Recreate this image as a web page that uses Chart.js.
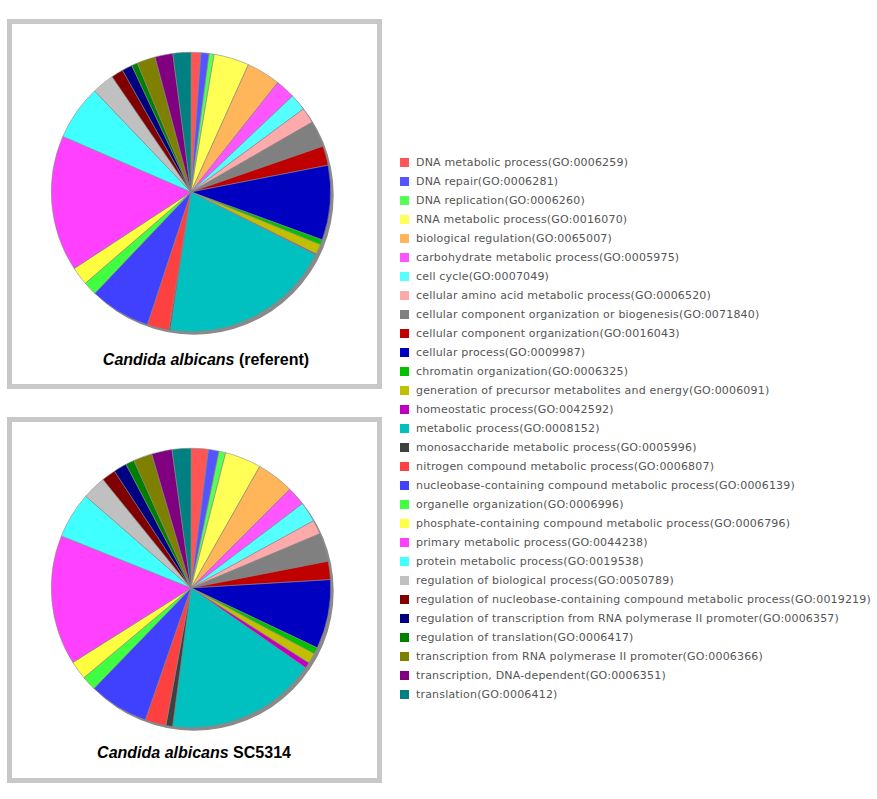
<!DOCTYPE html>
<html>
<head>
<meta charset="utf-8">
<script src="https://cdn.jsdelivr.net/npm/chart.js@4.4.1/dist/chart.umd.min.js"></script>
<style>
  body { margin: 0; background: #fff; width: 877px; height: 799px; position: relative; overflow: hidden; }
  .box { position: absolute; left: 7px; width: 365px; border: 5px solid #c8c8c8; background: #fff; }
  .pie { position: absolute; left: 46px; }
  .title { position: absolute; font: bold 16px "Liberation Sans", Arial, sans-serif; color: #000; white-space: nowrap; transform: translateX(-50%); }
  #legend { position: absolute; left: 400px; top: 153px; font: 11px "DejaVu Sans", Verdana, sans-serif; letter-spacing: 0.18px; color: #555; }
  .row { height: 19px; line-height: 19px; white-space: nowrap; position: relative; padding-left: 16px; }
  .sw { position: absolute; left: 0; top: 5px; width: 9px; height: 9px; }
</style>
</head>
<body>
<div class="box" style="top:19px; height:360px;"></div>
<div class="box" style="top:417px; height:356px;"></div>
<canvas id="pieRef" class="pie" width="290" height="290" style="top:47px;"></canvas>
<canvas id="pieSC" class="pie" width="290" height="290" style="top:443px;"></canvas>
<div class="title" style="left:206px; top:351px;"><i>Candida albicans</i> (referent)</div>
<div class="title" style="left:194px; top:744px;"><i>Candida albicans</i> SC5314</div>
<div id="legend"></div>

<script>
// GO 分類名稱
const labels = [
  'DNA metabolic process(GO:0006259)',
  'DNA repair(GO:0006281)',
  'DNA replication(GO:0006260)',
  'RNA metabolic process(GO:0016070)',
  'biological regulation(GO:0065007)',
  'carbohydrate metabolic process(GO:0005975)',
  'cell cycle(GO:0007049)',
  'cellular amino acid metabolic process(GO:0006520)',
  'cellular component organization or biogenesis(GO:0071840)',
  'cellular component organization(GO:0016043)',
  'cellular process(GO:0009987)',
  'chromatin organization(GO:0006325)',
  'generation of precursor metabolites and energy(GO:0006091)',
  'homeostatic process(GO:0042592)',
  'metabolic process(GO:0008152)',
  'monosaccharide metabolic process(GO:0005996)',
  'nitrogen compound metabolic process(GO:0006807)',
  'nucleobase-containing compound metabolic process(GO:0006139)',
  'organelle organization(GO:0006996)',
  'phosphate-containing compound metabolic process(GO:0006796)',
  'primary metabolic process(GO:0044238)',
  'protein metabolic process(GO:0019538)',
  'regulation of biological process(GO:0050789)',
  'regulation of nucleobase-containing compound metabolic process(GO:0019219)',
  'regulation of transcription from RNA polymerase II promoter(GO:0006357)',
  'regulation of translation(GO:0006417)',
  'transcription from RNA polymerase II promoter(GO:0006366)',
  'transcription, DNA-dependent(GO:0006351)',
  'translation(GO:0006412)'
];

const colors = [
  '#ff5555', '#5555ff', '#55ff55', '#ffff55', '#ffb55a', '#ff55ff', '#55ffff', '#ffaaaa',
  '#808080', '#c00000', '#0000c0', '#00c000', '#c0c000', '#c000c0', '#00c0c0', '#404040',
  '#ff4040', '#4040ff', '#40ff40', '#ffff40', '#ff40ff', '#40ffff', '#c0c0c0', '#800000',
  '#000080', '#008000', '#808000', '#800080', '#008080'
];

// 各分類所佔百分比 (由圖估計)
const referentValues = [
  1.14, 0.94, 0.58, 4.08, 3.94, 2.28, 1.92, 1.81, 3.00, 2.25, 8.64, 0.58, 1.17, 0.11, 19.97,
  0.14, 2.53, 7.03, 1.58, 2.11, 15.75, 6.36, 2.58, 1.39, 1.19, 0.69, 2.14, 2.06, 2.08
];
const sc5314Values = [
  2.00, 1.22, 0.78, 4.19, 4.31, 2.19, 2.33, 1.64, 3.28, 2.11, 8.00, 0.75, 1.22, 0.67, 17.42,
  0.78, 2.42, 6.92, 1.69, 2.14, 15.03, 5.33, 2.75, 1.61, 1.53, 1.00, 2.17, 2.36, 2.17
];

// 圓餅右下陰影
const shadowPlugin = {
  id: 'pieShadow',
  beforeDatasetsDraw(chart) {
    const arc = chart.getDatasetMeta(0).data[0];
    if (!arc) return;
    const ctx = chart.ctx;
    ctx.save();
    ctx.fillStyle = '#8a8a8a';
    ctx.beginPath();
    ctx.arc(arc.x + 3, arc.y + 3, arc.outerRadius, 0, Math.PI * 2);
    ctx.fill();
    ctx.restore();
  }
};

function makePie(id, values) {
  return new Chart(document.getElementById(id), {
    type: 'pie',
    data: {
      labels: labels,
      datasets: [{
        data: values,
        backgroundColor: colors,
        borderColor: '#8a8a8a',
        borderWidth: 0.6
      }]
    },
    options: {
      responsive: false,
      animation: false,
      layout: { padding: 5 },
      plugins: {
        legend: { display: false },
        tooltip: { enabled: false }
      }
    },
    plugins: [shadowPlugin]
  });
}

makePie('pieRef', referentValues);
makePie('pieSC', sc5314Values);

// 圖例
const legendEl = document.getElementById('legend');
legendEl.innerHTML = labels.map((label, i) =>
  `<div class="row"><span class="sw" style="background:${colors[i]}"></span>${label}</div>`
).join('');
</script>
</body>
</html>
